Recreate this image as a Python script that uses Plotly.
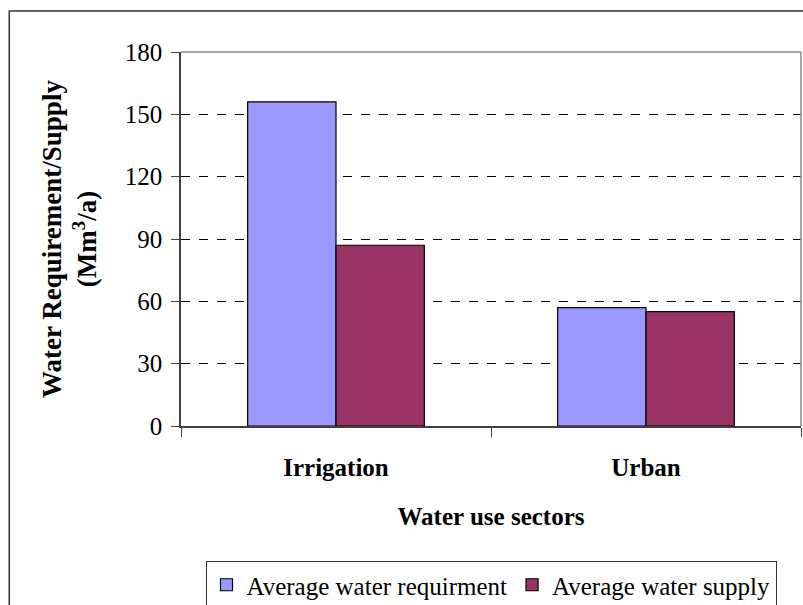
import plotly.graph_objects as go

categories = ["Irrigation", "Urban"]
requirement = [156, 57]
supply = [87, 55]
series_names = ["Average water requirment", "Average water supply"]
y_ticks = [0, 30, 60, 90, 120, 150, 180]

FONT = "Liberation Serif, Times New Roman, serif"

fig = go.Figure()
fig.add_trace(go.Bar(x=categories, y=requirement, name=series_names[0],
                     marker=dict(color="#9999FF", line=dict(color="black", width=1.2))))
fig.add_trace(go.Bar(x=categories, y=supply, name=series_names[1],
                     marker=dict(color="#993366", line=dict(color="black", width=1.2))))

fig.update_layout(
    width=803, height=605,
    margin=dict(l=181, r=2, t=52, b=179, autoexpand=False),
    paper_bgcolor="white", plot_bgcolor="white",
    barmode="group", bargap=0.43, bargroupgap=0,
    font=dict(family=FONT, color="black", size=25),
    showlegend=True,
    legend=dict(orientation="h", x=0.5, xanchor="center",
                yref="container", y=(605 - 561) / 605, yanchor="top",
                bordercolor="#333333", borderwidth=1, bgcolor="white",
                font=dict(family=FONT, size=25), itemwidth=30, tracegroupgap=0),
)

fig.update_xaxes(
    automargin=False,
    showline=True, linecolor="#404040", linewidth=1.5,
    ticks="outside", tickson="boundaries", ticklen=9, tickcolor="#404040",
    tickfont=dict(family=FONT, size=25, color="black"),
    ticklabelstandoff=18,
    tickprefix="<b>", ticksuffix="</b>",
    showgrid=False,
    title=dict(text="<b>Water use sectors</b>", font=dict(family=FONT, size=25), standoff=28),
)
fig.update_yaxes(
    automargin=False,
    range=[0, 180], tickvals=y_ticks,
    showline=True, linecolor="#404040", linewidth=1.5,
    ticks="outside", ticklen=8, tickcolor="#404040",
    tickfont=dict(family=FONT, size=25, color="black"),
    ticklabelstandoff=4,
    showgrid=True, gridcolor="black", gridwidth=1, griddash="dash",
    zeroline=False,
    title=dict(text="<b>Water Requirement/Supply<br>(Mm<sup>3</sup>/a)</b>",
               font=dict(family=FONT, size=27), standoff=20),
)

# plot area frame (top and right) in gray
fig.add_shape(type="line", xref="paper", yref="paper", x0=0, x1=1, y0=1, y1=1,
              line=dict(color="#888888", width=1.5))
fig.add_shape(type="line", xref="paper", yref="paper", x0=1, x1=1, y0=0, y1=1,
              line=dict(color="#888888", width=1.5))
# outer chart border
fig.add_shape(type="rect", xref="paper", yref="paper", x0=-0.277, x1=1.2, y0=-1.0, y1=1.1096,
              line=dict(color="#333333", width=1.5), fillcolor="rgba(0,0,0,0)", layer="below")

fig.write_html("out.html", config={"displayModeBar": False},
               post_script="document.body.style.margin='0';document.body.style.overflow='hidden';")
